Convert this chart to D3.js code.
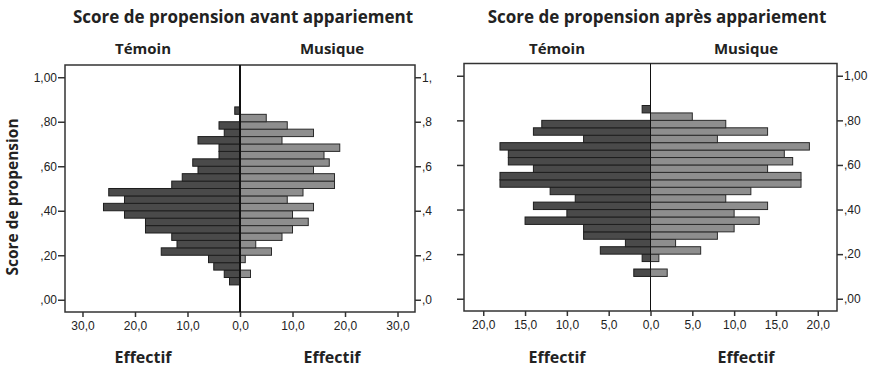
<!DOCTYPE html>
<html>
<head>
<meta charset="utf-8">
<script src="https://cdn.jsdelivr.net/npm/d3@7"></script>
<style>
  body { margin: 0; background: #fff; }
  .tick text { font-family: "Liberation Sans", Arial, sans-serif; font-size: 12px; fill: #222; }
  .lbl { font-family: "Open Sans", "Noto Sans", sans-serif; font-weight: bold; fill: #222; }
</style>
</head>
<body>
<div id="chart"></div>
<script>
// lower edge of each propensity-score bin (bin width 1/30)
const binLow = [0.0667, 0.1, 0.1333, 0.1667, 0.2, 0.2333, 0.2667, 0.3, 0.3333, 0.3667, 0.4, 0.4333,
                0.4667, 0.5, 0.5333, 0.5667, 0.6, 0.6333, 0.6667, 0.7, 0.7333, 0.7667, 0.8, 0.8333];
const binWidth = 1 / 30;

// avant appariement
const temoinAvant  = [2, 3, 5, 6, 15, 12, 13, 18, 18, 22, 26, 22, 25, 13, 11, 8, 9, 4, 4, 8, 3, 4, 0, 1];
const musiqueAvant = [0, 2, 0, 1, 6, 3, 8, 10, 13, 10, 14, 9, 12, 18, 18, 14, 17, 16, 19, 8, 14, 9, 5, 0];
// après appariement
const temoinApres  = [0, 2, 0, 1, 6, 3, 8, 8, 15, 10, 14, 9, 12, 18, 18, 14, 17, 17, 18, 8, 14, 13, 0, 1];
const musiqueApres = [0, 2, 0, 1, 6, 3, 8, 10, 13, 10, 14, 9, 12, 18, 18, 14, 17, 16, 19, 8, 14, 9, 5, 0];

const yTicks = [0, 0.2, 0.4, 0.6, 0.8, 1.0];
const yTickLabels = [",00", ",20", ",40", ",60", ",80", "1,00"];
const yTickLabelsShort = [",0", ",2", ",4", ",6", ",8", "1,"];
const xTicksAvant = [-30, -20, -10, 0, 10, 20, 30];
const xTicksApres = [-20, -15, -10, -5, 0, 5, 10, 15, 20];

const W = 873, H = 369;
const svg = d3.select('#chart').append('svg').attr('width', W).attr('height', H);

const fmt = v => d3.format('.1f')(Math.abs(v)).replace('.', ',');

function panel(opts) {
    const g = svg.append('g');
    const x = d3.scaleLinear().domain([-opts.xMax, opts.xMax]).range([opts.left, opts.right]);
    const y = d3.scaleLinear().domain([-0.055, 1.055]).range([opts.bottom, opts.top]);

    // box
    g.append('rect')
        .attr('x', opts.left).attr('y', opts.top)
        .attr('width', opts.right - opts.left).attr('height', opts.bottom - opts.top)
        .attr('fill', 'none').attr('stroke', '#333').attr('stroke-width', 1.5);

    const rows = binLow.map((b, i) => ({ low: b, t: opts.temoin[i], m: opts.musique[i] }));

    g.selectAll('.bt').data(rows.filter(d => d.t > 0)).enter().append('rect')
        .attr('class', 'bt')
        .attr('x', d => x(-d.t)).attr('width', d => x(0) - x(-d.t))
        .attr('y', d => y(d.low + binWidth)).attr('height', d => y(d.low) - y(d.low + binWidth))
        .attr('fill', '#4a4a4a').attr('stroke', '#1e1e1e').attr('stroke-width', 1);

    g.selectAll('.bm').data(rows.filter(d => d.m > 0)).enter().append('rect')
        .attr('class', 'bm')
        .attr('x', x(0)).attr('width', d => x(d.m) - x(0))
        .attr('y', d => y(d.low + binWidth)).attr('height', d => y(d.low) - y(d.low + binWidth))
        .attr('fill', '#8e8e8e').attr('stroke', '#2a2a2a').attr('stroke-width', 1);

    // center line
    g.append('line')
        .attr('x1', x(0)).attr('x2', x(0)).attr('y1', opts.top).attr('y2', opts.bottom)
        .attr('stroke', '#111').attr('stroke-width', opts.centerWidth);

    // x axis
    const xa = g.append('g').attr('transform', 'translate(0,' + opts.bottom + ')')
        .call(d3.axisBottom(x).tickValues(opts.xTicks).tickFormat(fmt).tickSize(5).tickPadding(4));
    xa.select('.domain').remove();
    xa.selectAll('.tick line').attr('stroke', '#333').attr('stroke-width', 1.5);

    // left y axis
    const yl = g.append('g').attr('transform', 'translate(' + opts.left + ',0)')
        .call(d3.axisLeft(y).tickValues(yTicks).tickSize(7).tickPadding(1)
            .tickFormat((d, i) => opts.leftLabels ? opts.leftLabels[i] : ''));
    yl.select('.domain').remove();
    yl.selectAll('.tick line').attr('stroke', '#333').attr('stroke-width', 1.5);

    // right y axis
    const yr = g.append('g').attr('transform', 'translate(' + opts.right + ',0)')
        .call(d3.axisRight(y).tickValues(yTicks).tickSize(6).tickPadding(1)
            .tickFormat((d, i) => opts.rightLabels[i]));
    yr.select('.domain').remove();
    yr.selectAll('.tick line').attr('stroke', '#333').attr('stroke-width', 1.5);

    // titles
    g.append('text').attr('class', 'lbl').attr('x', opts.titleX).attr('y', 23)
        .attr('text-anchor', 'middle').style('font-size', '17px').text(opts.title);
    g.append('text').attr('class', 'lbl').attr('x', opts.tX).attr('y', 54)
        .attr('text-anchor', 'middle').style('font-size', '15px').text('Témoin');
    g.append('text').attr('class', 'lbl').attr('x', opts.mX).attr('y', 54)
        .attr('text-anchor', 'middle').style('font-size', '15px').text('Musique');
    g.append('text').attr('class', 'lbl').attr('x', opts.tX).attr('y', 363)
        .attr('text-anchor', 'middle').style('font-size', '16px').text('Effectif');
    g.append('text').attr('class', 'lbl').attr('x', opts.mX).attr('y', 363)
        .attr('text-anchor', 'middle').style('font-size', '16px').text('Effectif');
}

panel({
    left: 65, right: 415, top: 65, bottom: 312, xMax: 33.33,
    temoin: temoinAvant, musique: musiqueAvant, xTicks: xTicksAvant,
    leftLabels: yTickLabels, rightLabels: yTickLabelsShort, centerWidth: 2,
    title: 'Score de propension avant appariement', titleX: 243, tX: 143, mX: 332
});

panel({
    left: 464, right: 837, top: 63.5, bottom: 311, xMax: 22.3,
    temoin: temoinApres, musique: musiqueApres, xTicks: xTicksApres,
    leftLabels: null, rightLabels: yTickLabels, centerWidth: 1,
    title: 'Score de propension après appariement', titleX: 657, tX: 557, mX: 746
});

svg.append('text').attr('class', 'lbl')
    .attr('transform', 'translate(18,197) rotate(-90)')
    .attr('text-anchor', 'middle').style('font-size', '15.5px')
    .text('Score de propension');
</script>
</body>
</html>
